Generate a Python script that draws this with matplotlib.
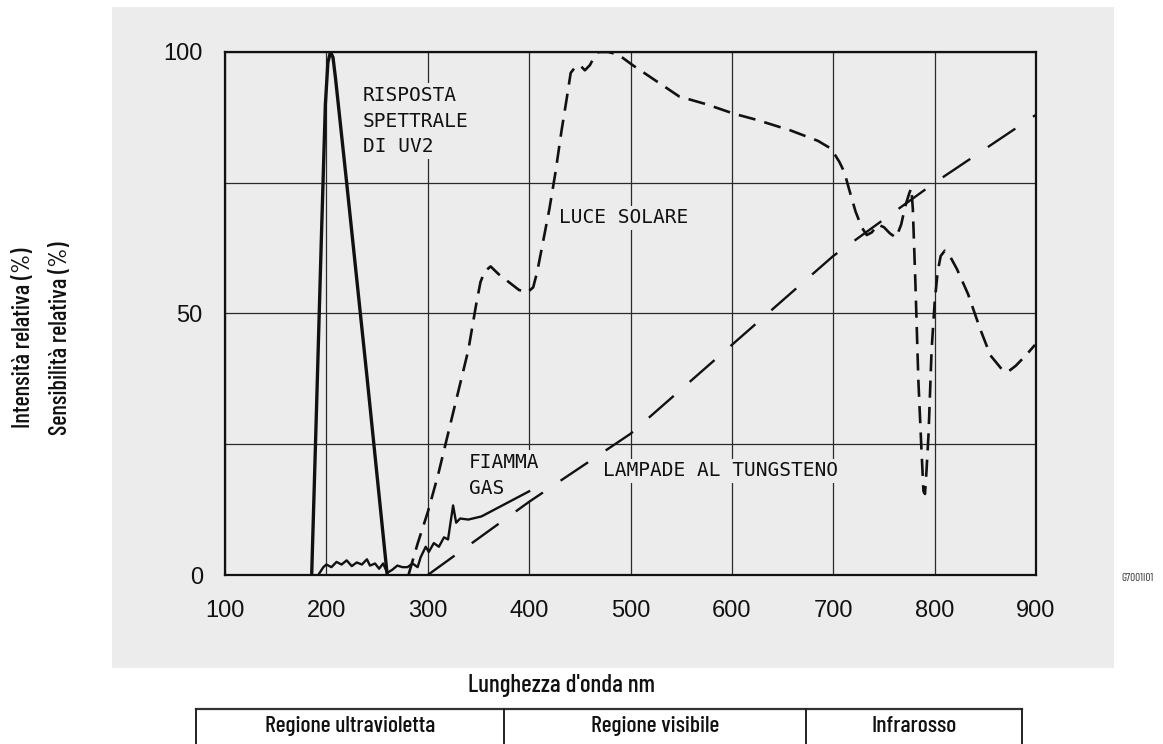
import matplotlib
matplotlib.use('Agg')
import matplotlib.pyplot as plt
from matplotlib.lines import Line2D
from matplotlib.patches import Rectangle

# ---------------- data ----------------
uv2_x = [185.5, 190, 195, 199, 201.5, 204, 206.5, 209, 220, 240, 260]
uv2_y = [0, 30, 64, 90, 98, 100, 99, 95, 75, 38, 0]

gas_x = [192, 197, 200, 205, 210, 215, 220, 225, 230, 235, 240, 243, 248, 252, 256, 260,
         265, 270, 275, 280, 285, 290, 293, 298, 301, 306, 311, 316, 320, 325, 328, 332,
         340, 353, 400]
gas_y = [0, 1.5, 2.0, 1.5, 2.5, 2.0, 2.8, 1.7, 2.4, 2.0, 3.0, 1.8, 2.2, 1.2, 2.2, 0.4,
         1.0, 1.8, 1.5, 1.5, 2.2, 1.5, 3.4, 5.4, 4.4, 6.1, 5.4, 7.2, 6.8, 13.3, 10.0, 10.8,
         10.6, 11.2, 16.0]

sun_x = [281, 290, 300, 310, 320, 330, 340, 348, 352, 356, 362, 370, 380, 390, 398, 404,
         408, 413, 420, 426, 432, 437, 441, 445, 450, 455, 460, 464, 468, 478, 488, 502,
         525, 548, 575, 602, 625, 658, 685, 698, 706, 711, 716, 722, 728, 733, 738, 744,
         750, 756, 762, 767, 771, 775, 777, 778.5, 781, 784, 787, 789, 790.5, 792, 794,
         797, 800, 803, 806, 810, 815, 822, 833, 845, 855, 866, 872, 880, 890, 899]
sun_y = [0, 6, 12, 19, 27, 35, 43, 52, 56, 58, 59, 57.5, 56, 54.5, 54, 55,
         58, 63, 70, 77, 85, 91, 96, 97, 97.5, 96.5, 97.5, 99, 100, 100, 99.5, 97.5,
         94.5, 91.5, 90, 88.2, 87, 85, 83, 81.5, 79, 77, 73.5, 69.5, 66.5, 65, 65.5, 67,
         66.5, 65.3, 64.5, 67, 70.5, 73, 74, 70, 56, 37, 24, 16, 15.5, 20, 27,
         43, 52, 58, 61, 62, 61, 58.5, 53.7, 47, 42, 39.4, 38.8, 40, 42, 44]

tung_x = [300, 400, 500, 600, 650, 700, 750, 800, 850, 900]
tung_y = [0, 14, 27, 44, 52.5, 61, 68, 75, 81.5, 88]

x_ticks = [100, 200, 300, 400, 500, 600, 700, 800, 900]
y_ticks = [0, 50, 100]
y_minor = [25, 75]
regions = ['Regione ultravioletta', 'Regione visibile', 'Infrarosso']

# ---------------- style ----------------
BG = '#ececec'
INK = '#111111'
cond = ['Barlow Condensed', 'DejaVu Sans']
plot_font = ['DejaVu Sans Mono', 'Liberation Mono']
tick_font = ['Liberation Sans', 'DejaVu Sans']

fig = plt.figure(figsize=(11.63, 7.44), dpi=100)
fig.patches.append(Rectangle((0.0963, 0.1022), 0.8616, 0.8884, transform=fig.transFigure,
                             facecolor=BG, edgecolor='none', zorder=-5))

ax = fig.add_axes([0.19347, 0.22715, 0.69733, 0.70296])
ax.set_zorder(1)
ax.set_facecolor(BG)
ax.set_xlim(100, 900)
ax.set_ylim(0, 100)
ax.set_xticks(x_ticks)
ax.set_yticks(y_ticks)
ax.set_yticks(y_minor, minor=True)
ax.tick_params(which='both', length=0)
ax.tick_params(axis='y', pad=16)
ax.tick_params(axis='x', pad=18)
for lab in ax.get_xticklabels() + ax.get_yticklabels():
    lab.set_fontfamily(tick_font)
    lab.set_fontsize(17)
    lab.set_color(INK)
ax.set_axisbelow(True)
ax.grid(which='both', color='#2a2a2a', lw=0.9)
for s in ax.spines.values():
    s.set_linewidth(1.6)
    s.set_color(INK)

ax.plot(uv2_x, uv2_y, color=INK, lw=2.4, solid_joinstyle='round', zorder=3)
ax.plot(gas_x, gas_y, color=INK, lw=1.7, zorder=3)
ax.plot(sun_x, sun_y, color=INK, lw=1.9, linestyle=(0, (6.5, 3.5)), zorder=3)
ax.plot(tung_x, tung_y, color=INK, lw=1.7, linestyle=(0, (14, 9)), zorder=3)

box = dict(facecolor=BG, edgecolor='none', pad=2)
txt_kw = dict(fontfamily=plot_font, fontsize=14, color=INK, bbox=box, zorder=2)
ax.text(236, 93.5, 'RISPOSTA\nSPETTRALE\nDI UV2', va='top', ha='left',
        linespacing=1.45, **txt_kw)
ax.text(429.5, 68.3, 'LUCE SOLARE', va='center', ha='left', **txt_kw)
ax.text(340.5, 23.3, 'FIAMMA\nGAS', va='top', ha='left', linespacing=1.45, **txt_kw)
ax.text(473, 19.9, 'LAMPADE AL TUNGSTENO', va='center', ha='left', **txt_kw)

# outer labels
fig.text(0.4824, 0.0793, "Lunghezza d'onda nm", fontfamily=cond, fontweight='medium',
         fontsize=18, ha='center', va='center', color=INK)
fig.text(0.0206, 0.5457, 'Intensità relativa (%)', fontfamily=cond, fontweight='medium',
         fontsize=17.5, rotation=90, ha='center', va='center', color=INK)
fig.text(0.0516, 0.5457, 'Sensibilità relativa (%)', fontfamily=cond, fontweight='medium',
         fontsize=17.5, rotation=90, ha='center', va='center', color=INK)
fig.text(0.9777, 0.2231, 'G7001I01', fontfamily=cond, fontsize=8,
         ha='center', va='center', color='#333333')

# region table
tx = [0.1685, 0.4334, 0.6930, 0.8788]
ty = 0.0470
fig.add_artist(Line2D([tx[0], tx[-1]], [ty, ty], transform=fig.transFigure,
                      color='#333333', lw=1.6))
for x in tx:
    fig.add_artist(Line2D([x, x], [ty, 0], transform=fig.transFigure,
                          color='#222222', lw=1.4))
for i, name in enumerate(regions):
    fig.text((tx[i] + tx[i + 1]) / 2, 0.0240, name, fontfamily=cond, fontweight='medium',
             fontsize=17, ha='center', va='center', color=INK)

fig.savefig('out.png', dpi=100)
